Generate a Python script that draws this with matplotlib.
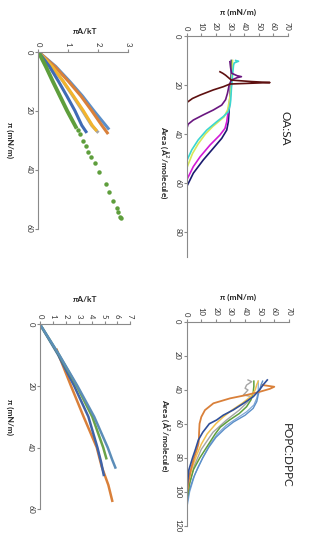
import matplotlib
matplotlib.use('Agg')
import matplotlib.pyplot as plt

plt.rcParams['font.family'] = ['Lato', 'DejaVu Sans']

# ---- OA:SA, pi*A/kT against pi (top left) ----
oa_orange_pi = [0, 5, 10, 15, 20, 25, 27.5]
oa_orange_val = [0, 0.55, 1.0, 1.42, 1.78, 2.12, 2.3]
oa_steel_pi = [0, 5, 10, 15, 20, 24, 26]
oa_steel_val = [0, 0.58, 1.04, 1.47, 1.85, 2.17, 2.33]
oa_gray_pi = [0, 5, 10, 15, 20, 25, 27.1]
oa_gray_val = [0, 0.45, 0.82, 1.15, 1.47, 1.78, 1.97]
oa_yellow_pi = [0, 5, 10, 15, 20, 25, 26.5]
oa_yellow_val = [0, 0.46, 0.83, 1.17, 1.5, 1.8, 1.92]
oa_blue_pi = [0, 5, 10, 15, 20, 25, 27.1]
oa_blue_val = [0, 0.37, 0.67, 0.95, 1.22, 1.45, 1.59]
oa_green_pi = [0, 5, 10, 15, 20, 25.5]
oa_green_val = [0, 0.25, 0.48, 0.72, 0.96, 1.25]
oa_dots_pi = [26.5, 28.0, 30.2, 32.0, 33.9, 35.8, 37.8, 40.7, 44.9, 47.5, 50.6, 53.1, 54.2, 55.9, 56.5]
oa_dots_val = [1.33, 1.39, 1.5, 1.59, 1.67, 1.76, 1.89, 2.02, 2.25, 2.36, 2.5, 2.61, 2.65, 2.72, 2.76]

# ---- OA:SA isotherms, area / pi (top right) ----
maroon_area = [90, 27.2, 25.5, 24.1, 22, 20.7, 19.6, 19.0, 18.6, 18.0, 17.0, 16.0, 15.2, 14.6]
maroon_pi = [0, 0, 4, 9.3, 18.5, 25.4, 30, 57.8, 45, 31, 29, 27, 25, 23.1]
purple_area = [38, 36, 34.3, 32.2, 30.2, 28.2, 26, 23.4, 20, 18, 17, 16.6, 16.2, 15.2, 13, 10.5]
purple_pi = [0, 1, 4.6, 11.5, 18.5, 24.3, 27, 28.3, 29.5, 31, 35, 38, 35, 31.2, 30.5, 30]
cyan_area = [51, 46.5, 42.4, 38.4, 35, 32.9, 30.9, 28, 26, 20, 15, 12, 11, 10.3, 10.0]
cyan_pi = [0, 3.5, 8, 13.9, 20.8, 25.4, 28.9, 30.2, 30.6, 31.2, 32, 32.5, 33, 36, 34]
lime_area = [54, 48, 44, 40, 37, 35, 33, 30, 25, 20, 15, 10]
lime_pi = [0, 4, 8, 13, 18, 22, 26, 28.5, 30, 31, 31.5, 31.8]
magenta_area = [58.8, 53.3, 49.3, 44.5, 40.4, 37.7, 35, 30, 26, 20, 15]
magenta_pi = [0, 4.6, 9.3, 16.2, 23.1, 26.6, 27.8, 29, 30, 31, 31.5]
navy_area = [61.5, 56, 50.6, 45.8, 41.8, 38.4, 35, 30, 25, 20, 15, 10]
navy_pi = [0, 4.6, 11.5, 18.5, 24.3, 27.8, 28.9, 29.5, 30, 30.5, 31, 31]

# ---- POPC:DPPC, pi*A/kT against pi (bottom left) ----
pc_steel_pi = [0, 10, 20, 30, 40, 44, 46.5]
pc_steel_val = [0, 1.5, 2.9, 4.2, 5.25, 5.6, 5.84]
pc_green_pi = [0, 10, 20, 30, 40, 43.5]
pc_green_val = [0, 1.48, 2.85, 4.05, 4.9, 5.14]
pc_blue_pi = [0, 10, 20, 30, 40, 45, 48.9]
pc_blue_val = [0, 1.42, 2.65, 3.75, 4.45, 4.75, 4.94]
pc_orange_pi = [8.3, 10, 20, 30, 40, 46.2, 52.2, 57.3]
pc_orange_val = [1.3, 1.45, 2.4, 3.38, 4.4, 4.78, 5.3, 5.6]

# ---- POPC:DPPC isotherms, area / pi (bottom right) ----
d_orange_area = [103, 95, 88, 80, 75, 72, 70, 65, 60, 56, 52, 48, 45.1, 43.1, 41.2, 39.5, 38.3, 37.3]
d_orange_pi = [0, 1, 2.5, 5, 7, 8, 8.3, 8.5, 8.8, 10, 12.5, 18.3, 29.7, 41.1, 50.2, 57, 60, 52]
d_gray_area = [106, 95, 85, 75, 65, 58, 52, 47, 44, 43.1, 42.1, 40.2, 39.2, 37.3, 35.3, 34.3]
d_gray_pi = [0, 2, 5, 10, 18, 27, 36, 42, 44, 38.8, 40, 42, 40, 41, 44.5, 42]
d_yellow_area = [101, 93, 85, 78, 72, 66, 60, 56, 52, 48, 44, 40, 37, 35]
d_yellow_pi = [0, 1.5, 4, 7, 10, 14, 20, 25, 31, 38, 44, 47, 48, 49]
d_green_area = [105, 95, 87, 80, 72, 66, 62, 58, 54, 50, 46, 42, 38, 35]
d_green_pi = [0, 2, 4.6, 9, 15, 19.5, 23, 29, 36, 41, 44, 45.5, 46, 46]
d_light_area = [110, 100, 90, 80, 72, 66, 61, 57, 53, 49, 45, 41, 38, 35]
d_light_pi = [0, 2, 5.5, 11, 16, 21, 27, 34, 41, 46, 48, 49, 49, 49]
d_steel_area = [108, 100, 92, 86, 80, 74, 68, 63, 59, 55, 51, 47, 43, 40, 37, 35]
d_steel_pi = [0, 1.5, 4.5, 7.5, 11, 15, 20, 26, 32, 40, 45.5, 48, 49, 50, 51, 52]
d_blue_area = [103, 95, 87, 80, 75, 69.5, 65, 60, 57.8, 55, 51.9, 48, 44.1, 40, 37, 34.3]
d_blue_pi = [0, 0.5, 1.5, 4, 6, 8, 11, 15.5, 20.5, 25, 31.9, 39, 45.6, 50, 52.5, 55.2]

W, H = 309, 550
fig = plt.figure(figsize=(W / 100, H / 100), dpi=100)
fig.patch.set_facecolor('white')


def panel(x0, y0, x1, y1, xlim, ylim, xticks, yticks):
    # axes placed in pixels, whole chart is turned a quarter turn
    ax = fig.add_axes([x0 / W, 1 - y1 / H, (x1 - x0) / W, (y1 - y0) / H])
    ax.set_xlim(*xlim)
    ax.set_ylim(ylim[1], ylim[0])
    ax.xaxis.tick_top()
    ax.set_xticks(xticks)
    ax.set_yticks(yticks)
    for s in ['right', 'bottom']:
        ax.spines[s].set_visible(False)
    for s in ['left', 'top']:
        ax.spines[s].set_color('#8a8a8a')
        ax.spines[s].set_linewidth(0.8)
    ax.tick_params(direction='out', length=2.5, width=0.8, color='#8a8a8a',
                   labelsize=5.5, pad=1.5, labelcolor='#333333')
    for lab in ax.get_xticklabels():
        lab.set_rotation(-90)
        lab.set_ha('center')
        lab.set_va('bottom')
    for lab in ax.get_yticklabels():
        lab.set_rotation(-90)
        lab.set_va('center')
        lab.set_ha('right')
    ax.patch.set_alpha(0)
    return ax


def label(x, y, s, size=6, weight='bold', rot=-90):
    fig.text(x / W, 1 - y / H, s, rotation=rot, ha='center', va='center',
             fontsize=size, fontweight=weight, color='#222222')


# top left
ax1 = panel(38.3, 51.7, 128.3, 228.7, (0, 3), (0, 60), [0, 1, 2, 3], [0, 20, 40, 60])
ax1.plot(oa_steel_val, oa_steel_pi, color='#5B8FC9', lw=2.2)
ax1.plot(oa_orange_val, oa_orange_pi, color='#D9803A', lw=2.2)
ax1.plot(oa_gray_val, oa_gray_pi, color='#A5A5A5', lw=2.2)
ax1.plot(oa_yellow_val, oa_yellow_pi, color='#F2B42D', lw=2.2)
ax1.plot(oa_blue_val, oa_blue_pi, color='#3F6BB5', lw=2.2)
ax1.plot(oa_green_val, oa_green_pi, color='#5E9E3C', lw=2.8)
ax1.plot(oa_dots_val, oa_dots_pi, 'o', color='#5E9E3C', ms=2.2)
label(10, 140, 'π (mN/m)')
label(85, 32, 'πA/kT', rot=0)

# top right
ax2 = panel(186.7, 36, 287.5, 256.5, (0, 70), (0, 90), range(0, 71, 10), range(0, 81, 20))
ax2.plot(navy_pi, navy_area, color='#1A1A6E', lw=1.2)
ax2.plot(magenta_pi, magenta_area, color='#D21BD6', lw=1.2)
ax2.plot(lime_pi, lime_area, color='#D6E85A', lw=1.2)
ax2.plot(cyan_pi, cyan_area, color='#3BD6D0', lw=1.2)
ax2.plot(purple_pi, purple_area, color='#6A1780', lw=1.2)
ax2.plot(maroon_pi, maroon_area, color='#5E1010', lw=1.2)
label(164, 163, 'Area (Å$^2$/molecule)')
label(238, 12, 'π (mN/m)', rot=0)
label(285, 128, 'OA:SA', size=8.5, weight='normal')

# bottom left
ax3 = panel(40, 324.3, 130.3, 509.1, (0, 7), (0, 60), range(0, 8), [0, 20, 40, 60])
ax3.plot(pc_orange_val, pc_orange_pi, color='#D9803A', lw=1.8)
ax3.plot(pc_blue_val, pc_blue_pi, color='#3F63A8', lw=1.8)
ax3.plot(pc_green_val, pc_green_pi, color='#6AA349', lw=1.8)
ax3.plot(pc_steel_val, pc_steel_pi, color='#5B8DB8', lw=1.8)
label(10, 417, 'π (mN/m)')
label(85, 300, 'πA/kT', rot=0)

# bottom right
ax4 = panel(186.7, 321.5, 288.9, 526, (0, 70), (0, 120), range(0, 71, 10), range(0, 121, 20))
ax4.plot(d_gray_pi, d_gray_area, color='#A5A5A5', lw=1.0)
ax4.plot(d_light_pi, d_light_area, color='#7FA7D6', lw=0.9)
ax4.plot(d_steel_pi, d_steel_area, color='#5B8FC9', lw=1.0)
ax4.plot(d_green_pi, d_green_area, color='#5E9E3C', lw=1.1)
ax4.plot(d_yellow_pi, d_yellow_area, color='#F2C14E', lw=1.1)
ax4.plot(d_orange_pi, d_orange_area, color='#D9803A', lw=1.3)
ax4.plot(d_blue_pi, d_blue_area, color='#2F4F9A', lw=1.2)
label(165, 436, 'Area (Å$^2$/molecule)')
label(238, 297, 'π (mN/m)', rot=0)
label(286, 455, 'POPC:DPPC', size=8.5, weight='normal')

fig.savefig('out.png', dpi=100, facecolor='white')
